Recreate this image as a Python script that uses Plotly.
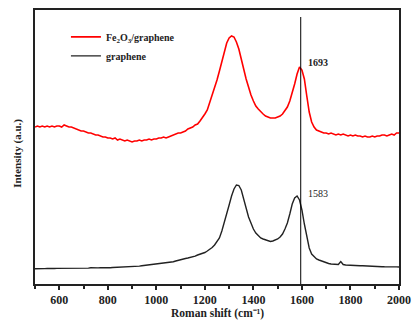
import plotly.graph_objects as go

# Raman shift grid (cm^-1)
shift = list(range(500, 2001, 10))

# Fe2O3/graphene intensity (a.u., offset)
fe2o3_graphene = [
    157, 158, 157, 158, 157, 158, 157, 158, 157, 158,
    158, 157, 159, 158, 157, 157, 156, 155, 154, 153,
    153, 152, 151, 151, 150, 149, 149, 148, 147, 147,
    146, 146, 145, 146, 144, 145, 144, 143, 144, 143,
    142, 143, 143, 144, 143, 144, 144, 145, 144, 145,
    145, 146, 146, 147, 146, 147, 148, 149, 150, 151,
    151, 152, 153, 155, 156, 157, 159, 160, 163, 166,
    170, 174, 181, 188, 196, 204, 213, 223, 233, 241,
    246, 248, 247, 242, 235, 226, 215, 205, 196, 189,
    183, 178, 175, 172, 170, 168, 167, 166, 166, 166,
    167, 168, 170, 173, 177, 183, 191, 200, 210, 217,
    214, 205, 188, 172, 162, 157, 154, 153, 152, 151,
    151, 150, 151, 150, 149, 150, 149, 150, 149, 148,
    149, 148, 149, 148, 148, 147, 148, 147, 147, 148,
    147, 148, 148, 149, 149, 148, 149, 150, 149, 151,
    151,
]

# graphene intensity (a.u.)
graphene = [
    15.3, 15.5, 15.2, 15.6, 15.4, 15.5, 15.3, 15.7, 15.5, 15.6,
    15.6, 15.4, 15.8, 15.6, 15.7, 15.9, 15.7, 15.8, 16.0, 15.8,
    16.0, 16.1, 15.9, 16.2, 16.0, 16.3, 16.1, 16.4, 16.2, 16.3,
    16.4, 16.3, 16.5, 16.6, 16.5, 16.7, 16.6, 16.8, 16.9, 17.0,
    17.0, 17.3, 17.6, 17.9, 18.2, 18.5, 18.8, 19.0, 19.2, 19.3,
    19.5, 19.8, 20.3, 20.6, 21.0, 21.5, 21.9, 22.3, 23.0, 23.8,
    24.5, 25.0, 25.5, 26.0, 26.5, 27.0, 27.8, 29.0, 29.8, 30.5,
    31.5, 33.0, 34.5, 36.5, 39.0, 42.0, 46.0, 53.0, 61.0, 70.0,
    79.0, 88.0, 95.0, 99.0, 98.5, 94.0, 86.0, 76.0, 67.0, 60.0,
    55.0, 51.0, 48.0, 46.0, 45.0, 44.0, 43.5, 42.5, 43.0, 44.0,
    45.0, 47.0, 50.0, 55.0, 61.0, 70.0, 80.0, 86.0, 88.0, 84.0,
    74.0, 60.0, 46.0, 36.0, 30.0, 27.0, 25.0, 24.0, 23.0, 22.0,
    21.0, 20.5, 20.0, 20.0, 19.5, 19.5, 22.5, 19.5, 19.0, 19.0,
    18.8, 18.7, 18.6, 18.5, 18.3, 18.2, 18.0, 17.8, 17.7, 17.7,
    17.5, 17.6, 17.4, 17.3, 17.2, 17.3, 17.1, 17.2, 17.0, 17.1,
    17.0,
]

marker_x = [1595, 1595]
marker_y = [0, 267]

labels = ["1693", "1583"]
label_x = [1615, 1615]
label_y = [222, 91]

FONT = "Liberation Serif"
INK = "#222222"

fig = go.Figure()
fig.add_trace(go.Scatter(
    x=shift, y=fe2o3_graphene, mode="lines",
    name="Fe<sub>2</sub>O<sub>3</sub>/graphene",
    line=dict(color="#ff0000", width=1.6),
))
fig.add_trace(go.Scatter(
    x=shift, y=graphene, mode="lines", name="graphene",
    line=dict(color=INK, width=1.4),
))
fig.add_trace(go.Scatter(
    x=marker_x, y=marker_y, mode="lines", showlegend=False,
    line=dict(color="#000000", width=1),
))

fig.add_annotation(x=label_x[0], y=label_y[0], text=labels[0],
                   showarrow=False, xanchor="left", yanchor="middle",
                   font=dict(family=FONT, size=10, color=INK, weight="bold"))
fig.add_annotation(x=label_x[1], y=label_y[1], text=labels[1],
                   showarrow=False, xanchor="left", yanchor="middle",
                   font=dict(family=FONT, size=10, color=INK))
fig.add_annotation(xref="paper", yref="paper", x=-0.05, y=0.478,
                   text="Intensity (a.u.)", textangle=-90, showarrow=False,
                   xanchor="center", yanchor="middle",
                   font=dict(family=FONT, size=11, color=INK, weight="bold"))
fig.add_annotation(xref="paper", yref="paper", x=0.5, y=-0.108,
                   text="Roman shift (cm\u207b\u00b9)", showarrow=False,
                   xanchor="center", yanchor="middle", borderpad=0,
                   font=dict(family=FONT, size=11.5, color=INK, weight="bold"))

fig.update_layout(
    width=412, height=321,
    margin=dict(l=35, r=13, t=10, b=37, autoexpand=False),
    paper_bgcolor="white", plot_bgcolor="white",
    font=dict(family=FONT, size=11, color=INK),
    showlegend=True,
    legend=dict(x=0.085, y=0.955, xanchor="left", yanchor="top",
                bgcolor="rgba(0,0,0,0)",
                font=dict(family=FONT, size=10, color=INK, weight="bold"),
                itemwidth=30, tracegroupgap=2),
    xaxis=dict(
        range=[500, 2000], tickvals=list(range(600, 2001, 200)),
        ticks="outside", ticklen=4, tickwidth=1.5, tickcolor=INK,
        minor=dict(tickvals=list(range(500, 2001, 100)), ticks="outside",
                   ticklen=3, tickwidth=1.5, tickcolor=INK),
        showline=True, linecolor=INK, linewidth=2, mirror=True,
        showgrid=False, zeroline=False, automargin=False,
        tickfont=dict(family=FONT, size=12, color=INK, weight="bold"),
    ),
    yaxis=dict(
        range=[0, 274], showticklabels=False, ticks="",
        showline=True, linecolor=INK, linewidth=2, mirror=True,
        showgrid=False, zeroline=False, automargin=False,
    ),
)

fig.write_html("out.html")
